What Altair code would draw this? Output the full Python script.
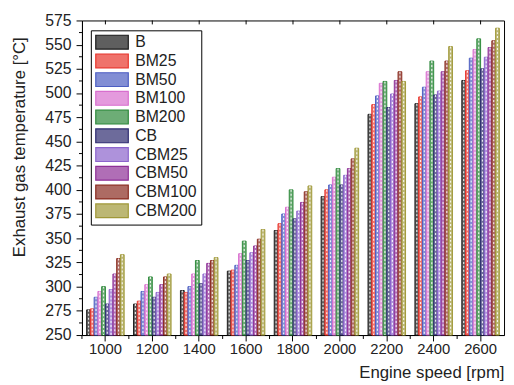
import altair as alt
import pandas as pd

speeds = ["1000", "1200", "1400", "1600", "1800", "2000", "2200", "2400", "2600"]
series = ["B", "BM25", "BM50", "BM100", "BM200", "CB", "CBM25", "CBM50", "CBM100", "CBM200"]

B      = [276, 282, 296, 316, 358, 393, 478, 489, 513]
BM25   = [277, 285, 294, 317, 365, 400, 488, 496, 523]
BM50   = [289, 295, 300, 322, 375, 405, 497, 506, 536]
BM100  = [295, 302, 313, 334, 382, 413, 510, 522, 545]
BM200  = [300, 310, 327, 347, 400, 422, 512, 533, 556]
CB     = [282, 289, 303, 327, 370, 405, 485, 498, 525]
CBM25  = [297, 294, 313, 335, 378, 415, 499, 502, 537]
CBM50  = [313, 302, 324, 342, 387, 422, 513, 522, 547]
CBM100 = [329, 310, 327, 349, 398, 432, 522, 533, 554]
CBM200 = [333, 313, 330, 359, 404, 443, 512, 548, 567]

values = [B, BM25, BM50, BM100, BM200, CB, CBM25, CBM50, CBM100, CBM200]
colors = ["#1a1a1a", "#e8352c", "#4c5ec2", "#d86ece", "#2f8a3c",
          "#2e2b70", "#8c64cc", "#8e3096", "#8a2c20", "#a09838"]


def lighten(hexcol, t=0.3):
    r, g, b = (int(hexcol[i:i + 2], 16) for i in (1, 3, 5))
    r, g, b = (round(c + (255 - c) * t) for c in (r, g, b))
    return f"#{r:02x}{g:02x}{b:02x}"


fills = [lighten(c) for c in colors]

y_ticks = list(range(250, 576, 25))
y_minor = [v + 12.5 for v in range(250, 575, 25)]

rows = []
for s, vals in zip(series, values):
    for sp, v in zip(speeds, vals):
        rows.append({"speed": sp, "series": s, "value": v, "base": 250})
df = pd.DataFrame(rows)

FONT = "Liberation Sans"

xscale = alt.Scale(domain=speeds, paddingInner=0.2, paddingOuter=0.1)
yscale = alt.Scale(domain=[250, 575], nice=False, zero=False)

x_axis = alt.Axis(title="Engine speed [rpm]", labelAngle=0, labelFontSize=15,
                  titleFontSize=17, titleFontWeight="normal", titleAnchor="end",
                  tickSize=6, labelPadding=1, titlePadding=8,
                  domainColor="black", tickColor="black", labelColor="#222",
                  titleColor="#222", labelFont=FONT, titleFont=FONT)
y_axis = alt.Axis(title="Exhaust gas temperature [°C]", values=y_ticks,
                  labelOverlap=False, labelFontSize=16, titleFontSize=17,
                  titleFontWeight="normal", titleY=128,
                  tickSize=6, labelPadding=5, titlePadding=17, grid=False,
                  domainColor="black", tickColor="black", labelColor="#222",
                  titleColor="#222", labelFont=FONT, titleFont=FONT)

legend = alt.Legend(title=None, orient="none", legendX=9, legendY=10,
                    symbolType="M-1,-1H3.71V1H-1Z", symbolSize=196, symbolStrokeWidth=1.2,
                    labelFontSize=16, labelFont=FONT, labelColor="#222", labelOffset=25,
                    rowPadding=-1, padding=4, strokeColor="black", fillColor="white",
                    symbolOpacity=1)

xo = alt.XOffset("series:N", sort=series, scale=alt.Scale(domain=series))

bars = alt.Chart(df).mark_bar(fillOpacity=1, strokeWidth=1).encode(
    x=alt.X("speed:N", scale=xscale, sort=speeds, axis=x_axis),
    xOffset=xo,
    y=alt.Y("value:Q", scale=yscale, axis=y_axis),
    y2="base:Q",
    fill=alt.Fill("series:N", scale=alt.Scale(domain=series, range=fills), sort=series, legend=legend),
    stroke=alt.Stroke("series:N", scale=alt.Scale(domain=series, range=colors), sort=series, legend=legend),
)

hatch = alt.Chart(df).mark_rule(color="white", strokeWidth=1.2, strokeDash=[2, 2], opacity=0.85).encode(
    x=alt.X("speed:N", scale=xscale, sort=speeds, axis=x_axis),
    xOffset=xo,
    y=alt.Y("value:Q", scale=yscale, axis=y_axis),
    y2="base:Q",
)

minor_df = pd.DataFrame({"value": y_minor})
yminor = alt.Chart(minor_df).mark_rule(color="black", strokeWidth=1).encode(
    y=alt.Y("value:Q", scale=yscale, axis=y_axis),
    x=alt.value(-3), x2=alt.value(0),
)

bound_df = pd.DataFrame({"speed": speeds})
xminor = alt.Chart(bound_df).mark_rule(color="black", strokeWidth=1, xOffset=-4.76).encode(
    x=alt.X("speed:N", scale=xscale, sort=speeds, bandPosition=0, axis=x_axis),
    y=alt.value(319), y2=alt.value(323),
)

xtop = alt.Chart(bound_df).mark_rule(color="black", strokeWidth=1).encode(
    x=alt.X("speed:N", scale=xscale, sort=speeds, bandPosition=0.5, axis=x_axis),
    y=alt.value(0), y2=alt.value(4),
)

chart = alt.layer(bars, hatch, yminor, xminor, xtop).properties(
    width=428, height=319,
    padding={"left": 2, "top": 2, "right": 2, "bottom": 0},
).configure_view(stroke="black", strokeWidth=1)

chart.save("out.html", embed_options={"renderer": "svg", "actions": False})
